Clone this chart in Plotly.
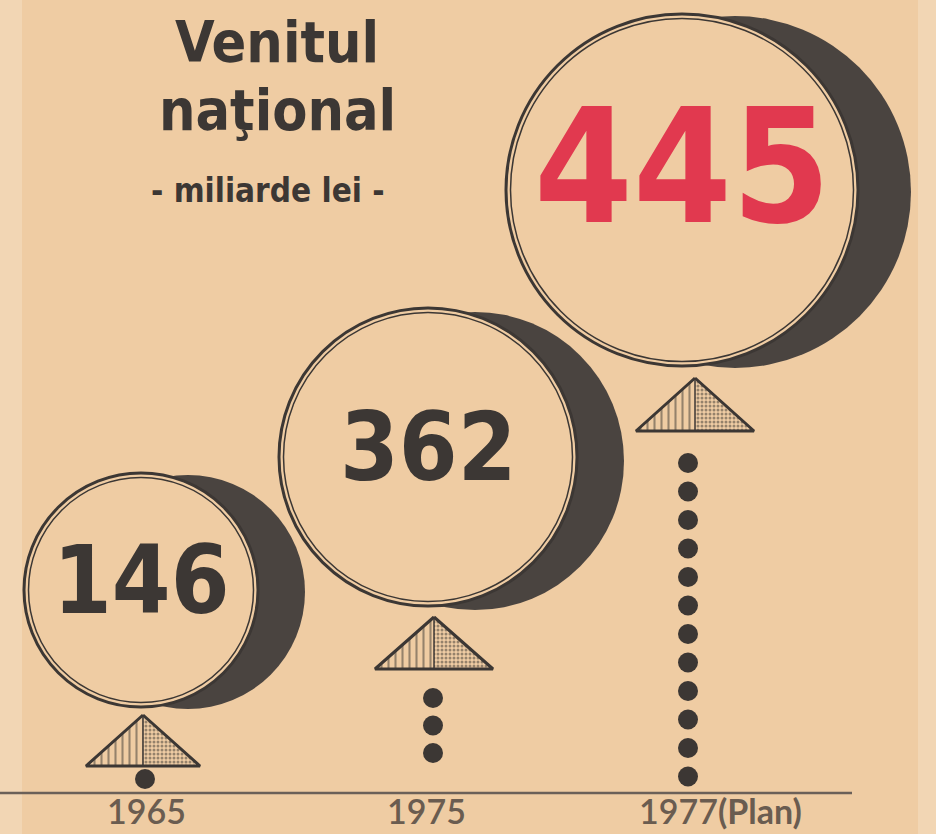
import plotly.graph_objects as go

# ---------------- data ----------------
title_lines = ["Venitul", "naţional"]
subtitle = "- miliarde lei -"
years = ["1965", "1975", "1977"]
year_notes = ["", "", "(Plan)"]
values = [146, 362, 445]

# ---------------- geometry / styles (pixels) ----------------
W, H = 936, 834
BG = "#efcca3"
INK = "#3c3734"
CRES = "#4a4440"
RED = "#e1394f"
YEARC = "#6a5c50"
LINEC = "#6b6058"
NARROW = "DejaVu Sans Condensed, Liberation Sans, sans-serif"

ring_cx = [141, 428, 682]
ring_cy = [590, 457, 190]
ring_r = [117, 149, 176]
cres_dx = [47, 47, 53]
cres_dy = [2, 4, 2]
tri_x = [143, 434, 695]
tri_top = [715, 617, 378]
tri_base = [766, 669, 431]
tri_half = [57, 59, 59]
dot_x = [145, 433, 688]
dot_y0 = [779, 698, 463]
dot_step = [0, 27.5, 28.5]
dot_n = [1, 3, 12]
num_size = [94, 94, 158]
num_cy = [580, 447, 167]
num_color = [INK, INK, RED]
year_x = [146, 426, 638]
year_anchor = ["center", "center", "left"]
year_cy = 810
baseline_y = 793

fig = go.Figure()
shapes = []
annotations = []

# side strips (lighter paper)
shapes.append(dict(type="rect", xref="x", yref="y", x0=0, x1=22, y0=0, y1=H,
                   fillcolor="#f2d6b4", line=dict(width=0), layer="below"))
shapes.append(dict(type="rect", xref="x", yref="y", x0=918, x1=W, y0=0, y1=H,
                   fillcolor="#f2d6b4", line=dict(width=0), layer="below"))

for i, v in enumerate(values):
    cx, cy, r = ring_cx[i], ring_cy[i], ring_r[i]
    dx, dy = cres_dx[i], cres_dy[i]
    shapes.append(dict(type="circle", xref="x", yref="y",
                       x0=cx + dx - r, x1=cx + dx + r, y0=cy + dy - r, y1=cy + dy + r,
                       fillcolor=CRES, line=dict(width=0)))
    shapes.append(dict(type="circle", xref="x", yref="y",
                       x0=cx - r, x1=cx + r, y0=cy - r, y1=cy + r,
                       fillcolor=BG, line=dict(color=INK, width=3)))
    ri = r - 4.5
    shapes.append(dict(type="circle", xref="x", yref="y",
                       x0=cx - ri, x1=cx + ri, y0=cy - ri, y1=cy + ri,
                       fillcolor="rgba(0,0,0,0)", line=dict(color=INK, width=1.5)))

    ax, at, ab, hw = tri_x[i], tri_top[i], tri_base[i], tri_half[i]
    fig.add_trace(go.Scatter(
        x=[ax, ax - hw, ax, ax], y=[at, ab, ab, at], mode="lines",
        fill="toself", line=dict(width=0, color=INK), hoverinfo="skip",
        fillpattern=dict(shape="|", size=7, solidity=0.3, fgcolor=INK, bgcolor=BG),
        showlegend=False))
    fig.add_trace(go.Scatter(
        x=[ax, ax, ax + hw, ax], y=[at, ab, ab, at], mode="lines",
        fill="toself", line=dict(width=0, color=INK), hoverinfo="skip",
        fillpattern=dict(shape=".", size=4, solidity=0.45, fgcolor=INK, bgcolor=BG),
        showlegend=False))
    fig.add_trace(go.Scatter(
        x=[ax, ax - hw, ax + hw, ax], y=[at, ab, ab, at], mode="lines",
        line=dict(width=3, color=INK), hoverinfo="skip", showlegend=False))
    fig.add_trace(go.Scatter(
        x=[ax, ax], y=[at, ab], mode="lines",
        line=dict(width=1.5, color=INK), hoverinfo="skip", showlegend=False))

    ys = [dot_y0[i] + k * dot_step[i] for k in range(dot_n[i])]
    fig.add_trace(go.Scatter(
        x=[dot_x[i]] * len(ys), y=ys, mode="markers",
        marker=dict(size=20, color=INK), hoverinfo="skip", showlegend=False))

    annotations.append(dict(
        x=cx, y=num_cy[i], xref="x", yref="y", text=f"<b>{v}</b>",
        showarrow=False, xanchor="center", yanchor="middle",
        font=dict(family=NARROW, size=num_size[i], color=num_color[i])))

    label = years[i] + (f"<b>{year_notes[i]}</b>" if year_notes[i] else "")
    annotations.append(dict(
        x=year_x[i], y=year_cy, xref="x", yref="y", text=label,
        showarrow=False, xanchor=year_anchor[i], yanchor="middle", borderpad=0,
        font=dict(family="Lato", size=34, color=YEARC, weight=600)))

shapes.append(dict(type="line", xref="x", yref="y", x0=0, x1=852,
                   y0=baseline_y, y1=baseline_y, line=dict(color=LINEC, width=2.5)))

annotations.append(dict(x=277, y=42, xref="x", yref="y", text=f"<b>{title_lines[0]}</b>",
                        showarrow=False, xanchor="center", yanchor="middle",
                        font=dict(family=NARROW, size=57, color=INK)))
annotations.append(dict(x=277, y=110, xref="x", yref="y", text=f"<b>{title_lines[1]}</b>",
                        showarrow=False, xanchor="center", yanchor="middle",
                        font=dict(family=NARROW, size=57, color=INK)))
annotations.append(dict(x=268, y=190, xref="x", yref="y", text=f"<b>{subtitle}</b>",
                        showarrow=False, xanchor="center", yanchor="middle",
                        font=dict(family=NARROW, size=33, color=INK)))

fig.update_layout(
    width=W, height=H,
    margin=dict(l=0, r=0, t=0, b=0),
    paper_bgcolor=BG, plot_bgcolor=BG,
    xaxis=dict(range=[0, W], visible=False, fixedrange=True),
    yaxis=dict(range=[H, 0], visible=False, fixedrange=True),
    shapes=shapes, annotations=annotations,
    showlegend=False,
)

fig.write_html("out.html", config={"displayModeBar": False},
               post_script="document.body.style.margin='0';document.body.style.overflow='hidden';")
